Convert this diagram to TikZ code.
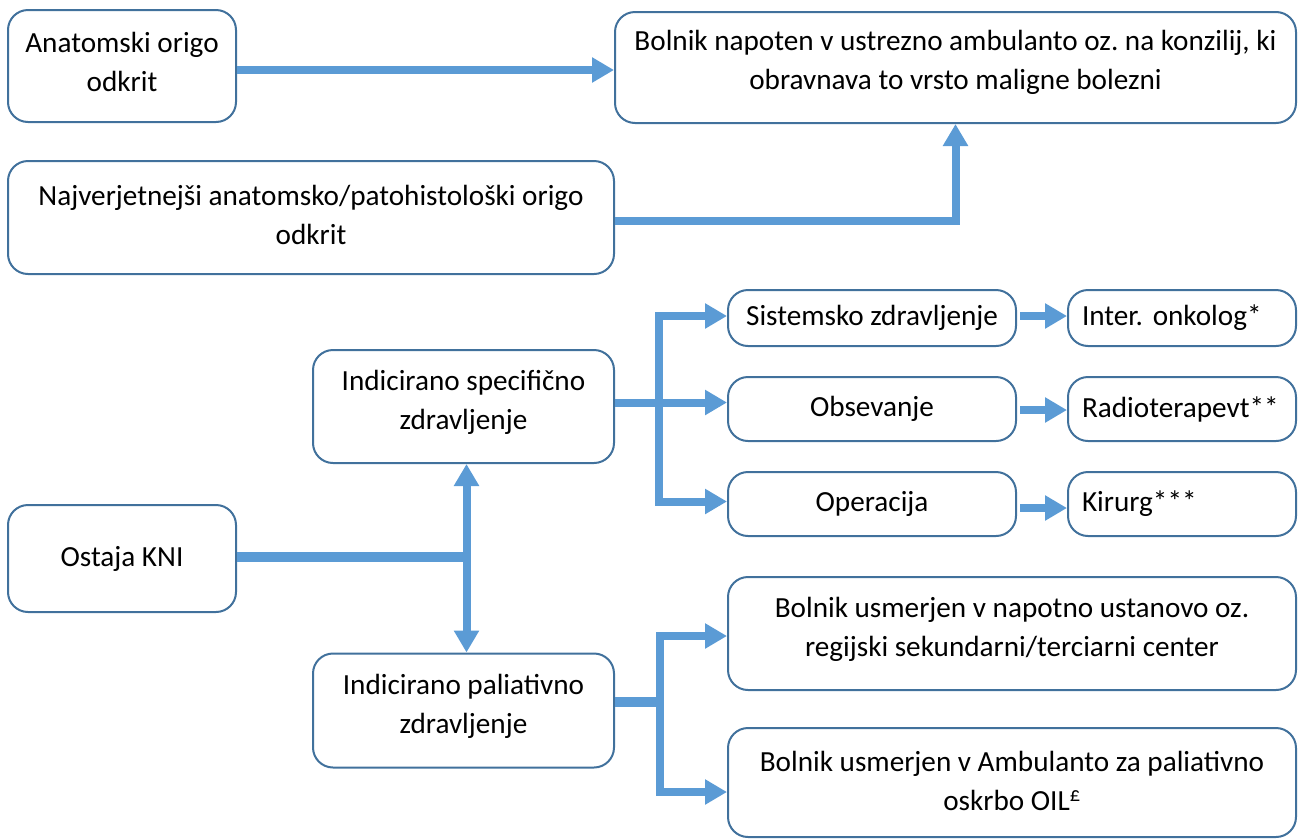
\documentclass[tikz,border=0pt]{standalone}
\usepackage{fontspec}
\setmainfont{Carlito}
\usetikzlibrary{arrows.meta,calc}
\definecolor{edgeblue}{HTML}{41719C}
\definecolor{flowblue}{HTML}{5B9BD5}
\frenchspacing
\begin{document}
\begin{tikzpicture}[x=1pt,y=-1pt,
  txt/.style={align=center, inner sep=0pt, font=\fontsize{29.2}{39}\selectfont\frenchspacing},
  box/.style={draw=edgeblue, line width=2pt, rounded corners=20pt, fill=white, txt},
  leftbox/.style={box, align=left, text width=200pt, inner xsep=14pt},
  flowline/.style={draw=flowblue, line width=8pt},
  conn/.style={flowline, -{Triangle[length=22pt,width=24pt]}}]
\useasboundingbox (0,0) rectangle (1301,839);
% boxes
\node[box, minimum width=228pt, minimum height=112pt] (b1) at (122,66) {};
\node[txt] (b1t) at ([yshift=4.5pt]b1.center) {Anatomski origo\\ odkrit};
\node[box, minimum width=681pt, minimum height=111pt] (b2) at (955.5,67.5) {};
\node[txt] (b2t) at ([yshift=5pt]b2.center) {Bolnik napoten v ustrezno ambulanto oz. na konzilij, ki\\ obravnava to vrsto maligne bolezni};
\node[box, minimum width=606pt, minimum height=113pt] (b3) at (311,217.5) {};
\node[txt] (b3t) at ([yshift=3pt]b3.center) {Najverjetnejši anatomsko/patohistološki origo\\ odkrit};
\node[box, minimum width=288pt, minimum height=56pt] (b4) at (872,318) {Sistemsko zdravljenje};
\node[leftbox, minimum width=228pt, minimum height=56pt] (b5) at (1182,318) {Inter.\ onkolog*};
\node[box, minimum width=301pt, minimum height=113pt] (b6) at (463.5,406.5) {};
\node[txt] (b6t) at ([yshift=4.5pt]b6.center) {Indicirano specifično\\ zdravljenje};
\node[box, minimum width=288pt, minimum height=64pt] (b7) at (872,409) {Obsevanje};
\node[leftbox, minimum width=228pt, minimum height=64pt] (b8) at (1182,409) {Radioterapevt**};
\node[box, minimum width=288pt, minimum height=64pt] (b9) at (872,504) {Operacija};
\node[leftbox, minimum width=228pt, minimum height=64pt] (b10) at (1182,504) {Kirurg***};
\node[box, minimum width=228pt, minimum height=107pt] (b11) at (122,558.5) {Ostaja KNI};
\node[box, minimum width=568pt, minimum height=113pt] (b12) at (1012,633.5) {};
\node[txt] (b12t) at ([yshift=4.5pt]b12.center) {Bolnik usmerjen v napotno ustanovo oz.\\ regijski sekundarni/terciarni center};
\node[box, minimum width=301pt, minimum height=114pt] (b13) at (463.5,710.5) {};
\node[txt] (b13t) at ([yshift=4.5pt]b13.center) {Indicirano paliativno\\ zdravljenje};
\node[box, minimum width=568pt, minimum height=109pt] (b14) at (1012,782.5) {};
\node[txt] (b14t) at ([yshift=2pt]b14.center) {Bolnik usmerjen v Ambulanto za paliativno\\ oskrbo OIL\textsuperscript{£}};
% connection points
\coordinate (p1) at (b1.east |- 0,70);
\coordinate (p3) at (b3.east |- 0,220.5);
\coordinate (j1) at (466.5,557);
\coordinate (p11) at (b11.east |- j1);
\coordinate (s1) at (659,402.5);
\coordinate (p6) at (b6.east |- s1);
\coordinate (p4) at (b4.west |- 0,316);
\coordinate (p7) at (b7.west |- s1);
\coordinate (p9) at (b9.west |- 0,501.5);
\coordinate (q4) at (b4.east |- 0,316);
\coordinate (q5) at (b5.west |- q4);
\coordinate (q7) at (b7.east |- 0,410);
\coordinate (q8) at (b8.west |- q7);
\coordinate (q9) at (b9.east |- 0,508);
\coordinate (q10) at (b10.west |- q9);
\coordinate (s2) at (660,702);
\coordinate (p13) at (b13.east |- s2);
\coordinate (p12) at (b12.west |- 0,636);
\coordinate (p14) at (b14.west |- 0,792);
% connectors
\draw[conn] (p1) -- (p1 -| b2.west);
\draw[conn] (p3) -| (b2.south);
\draw[flowline, line width=9.5pt] (p11) -- (j1);
\draw[conn] (j1) -- (j1 |- b6.south);
\draw[conn] (j1) -- (j1 |- b13.north);
\draw[conn] (p6) -| (s1) |- (p4);
\draw[conn] (p6) -- (p7);
\draw[conn] (p6) -| (s1) |- (p9);
\draw[conn, shorten <=3pt] (q4) -- (q5);
\draw[conn, shorten <=3pt] (q7) -- (q8);
\draw[conn, shorten <=3pt] (q9) -- (q10);
\draw[flowline, line width=10pt] (p13) -- (s2);
\draw[conn] (s2) |- (p12);
\draw[conn] (s2) |- (p14);
\end{tikzpicture}
\end{document}
